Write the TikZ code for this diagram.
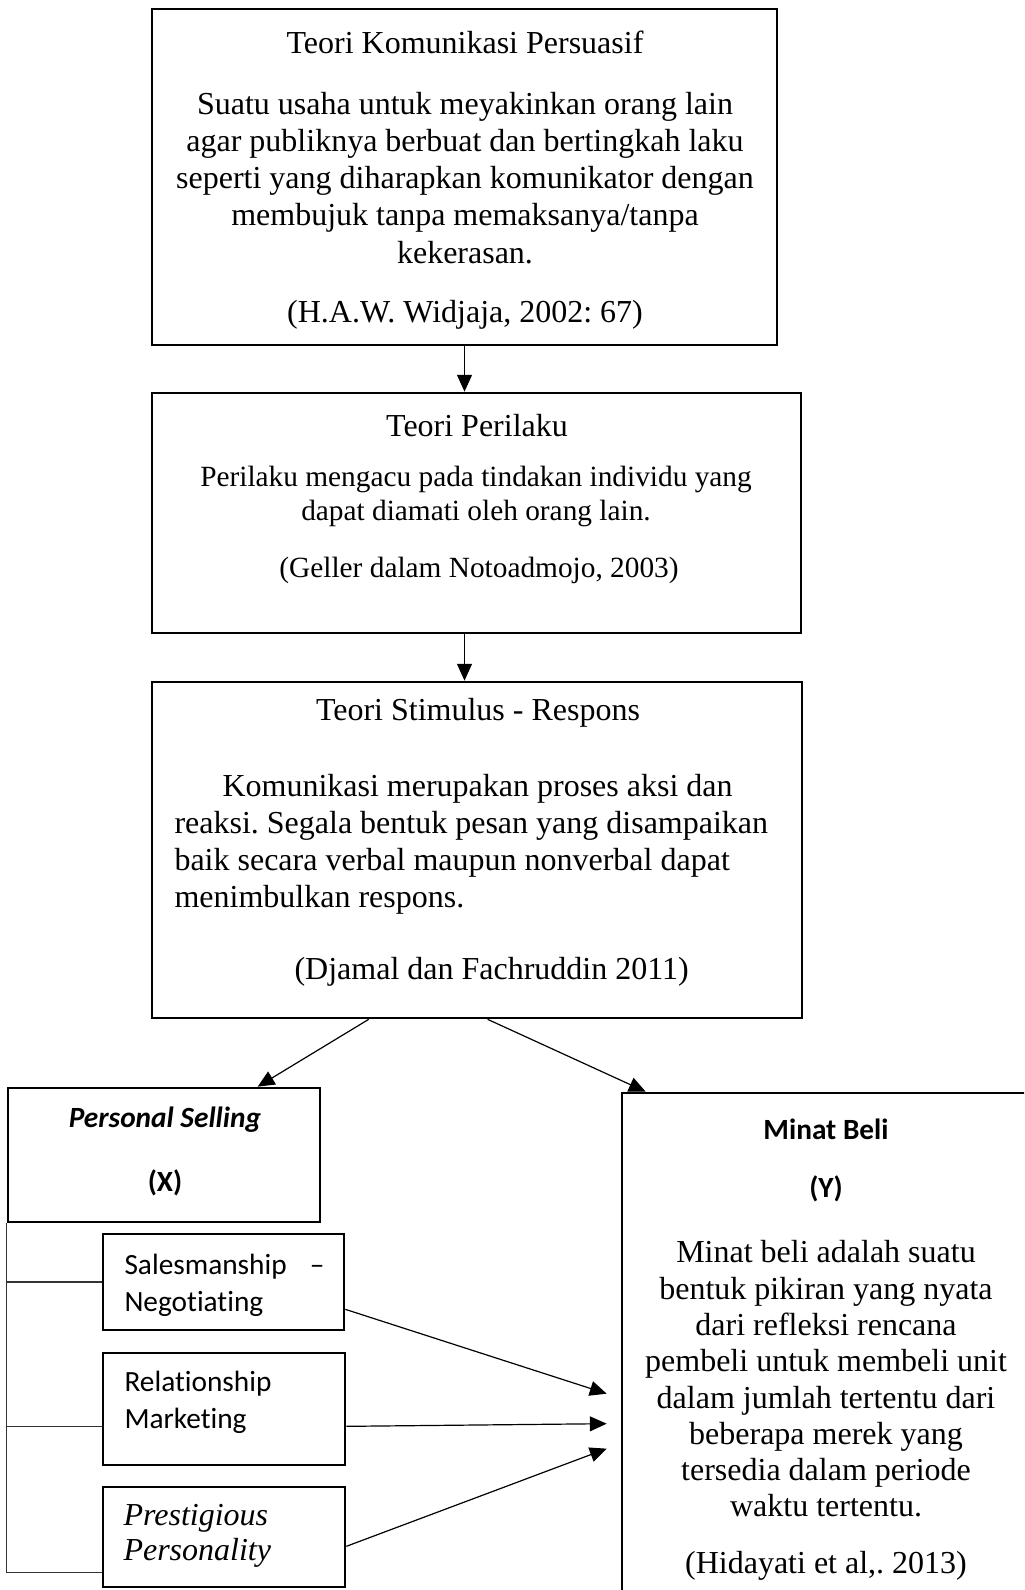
\documentclass[tikz,border=0pt]{standalone}
\usepackage{fontspec}
\setmainfont{Liberation Serif}
\newfontfamily\calibri[Ligatures={NoCommon,NoContextual},Contextuals={NoAlternate}]{Carlito}
\usetikzlibrary{arrows.meta,positioning,fit,calc}
\frenchspacing

\begin{document}
\begin{tikzpicture}[
  x=0.375pt, y=-0.375pt,
  kotak/.style={draw, line width=1pt, inner sep=0pt},
  panah/.style={-{Triangle[length=6.3pt,width=5.6pt]}, line width=0.45pt},
  garis/.style={line width=0.45pt, draw=black!80},
  judul/.style={font=\fontsize{12}{13.9}\selectfont},
  isi/.style={font=\fontsize{12}{13.9}\selectfont, align=center},
  kecil/.style={font=\calibri\fontsize{11}{13.9}\selectfont, align=left}
  ]
  \tikzstyle{every node}=[inner sep=0pt]
  \useasboundingbox (0,0) rectangle (1024,1590);
  \clip (0,0) rectangle (1024,1590);

  % kotak
  \node[kotak, fit={(152,9) (777,345)}] (kom) {};
  \node[kotak, fit={(152,393) (801,633)}] (per) {};
  \node[kotak, fit={(152,682) (802,1018)}] (stim) {};
  \node[kotak, fit={(8,1088) (320,1222)}] (ps) {};
  \node[kotak, fit={(622,1093) (1040,1610)}] (minat) {};
  \node[kotak, fit={(103,1234) (344,1330)}] (sales) {};
  \node[kotak, fit={(103,1353) (345,1465)}] (rel) {};
  \node[kotak, fit={(103,1487) (345,1587)}] (pres) {};

  % teks
  \node[judul] (kom-j) at (465,42) {Teori Komunikasi Persuasif};
  \node[isi] (kom-i) at (465,178) {Suatu usaha untuk meyakinkan orang lain\\
    agar publiknya berbuat dan bertingkah laku\\
    seperti yang diharapkan komunikator dengan\\
    membujuk tanpa memaksanya/tanpa\\
    kekerasan.};
  \node[judul] (kom-s) at (465,315) {(H.A.W. Widjaja, 2002: 67)};

  \node[judul] (per-j) at (477,426) {Teori Perilaku};
  \node[isi, font=\fontsize{11}{12.75}\selectfont] (per-i) at (476,496) {Perilaku mengacu pada tindakan individu yang\\
    dapat diamati oleh orang lain.};
  \node[font=\fontsize{11}{12.75}\selectfont] (per-s) at (479,570) {(Geller dalam Notoadmojo, 2003)};

  \node[judul] (stim-j) at (478,713) {Teori Stimulus - Respons};
  \node[isi, align=left, anchor=west] (stim-i) at (174,844) {\hspace*{18pt}Komunikasi merupakan proses aksi dan\\
    reaksi. Segala bentuk pesan yang disampaikan\\
    baik secara verbal maupun nonverbal dapat\\
    menimbulkan respons.};
  \node[judul, anchor=west] (stim-s) at (294,972) {(Djamal dan Fachruddin 2011)};

  \node[kecil, font=\calibri\bfseries\itshape\fontsize{11}{13.9}\selectfont] (ps-j) at (165,1120) {Personal Selling};
  \node[kecil, font=\calibri\bfseries\fontsize{11}{13.9}\selectfont] (ps-x) at (165,1183) {(X)};

  \node[kecil, font=\calibri\bfseries\fontsize{11}{13.9}\selectfont] (minat-j) at (826,1129) {Minat Beli};
  \node[kecil, font=\calibri\bfseries\fontsize{11}{13.9}\selectfont] (minat-y) at (826,1189) {(Y)};
  \node[isi, font=\fontsize{12}{13.6}\selectfont] (minat-i) at (826,1379) {Minat beli adalah suatu\\
    bentuk pikiran yang nyata\\
    dari refleksi rencana\\
    pembeli untuk membeli unit\\
    dalam jumlah tertentu dari\\
    beberapa merek yang\\
    tersedia dalam periode\\
    waktu tertentu.};
  \node[judul] (minat-s) at (826,1566) {(Hidayati et al,. 2013)};

  \node[kecil, anchor=west, text width=75pt] (sales-t) at (124,1285) {Salesmanship \hfill –\\Negotiating};
  \node[kecil, anchor=west] (rel-t) at (124,1402) {Relationship\\Marketing};
  \node[isi, align=left, anchor=west, font=\fontsize{12}{13.2}\selectfont\itshape] (pres-t) at (123,1536) {Prestigious\\Personality};

  % panah
  \draw[panah] (kom.south) -- (kom.south |- per.north);
  \draw[panah] (kom.south |- per.south) -- (kom.south |- stim.north);
  \draw[panah] ($(stim.south west)+(218,0)$) -- ($(ps.north west)+(251,0)$);
  \draw[panah] ($(stim.south west)+(337,0)$) -- ($(minat.north west)+(25,0)$);

  \draw[garis] (ps.south west) |- (sales.west);
  \draw[garis] (ps.south west) |- ($(rel.south west)+(0,-40)$);
  \draw[garis] (ps.south west) |- ($(pres.south west)+(0,-16)$);

  \coordinate (ujung1) at ($(minat.north west)+(-14,302)$);
  \coordinate (ujung2) at ($(minat.north west)+(-14,332)$);
  \coordinate (ujung3) at ($(minat.north west)+(-14,357)$);
  \draw[panah] ($(sales.south east)+(0,-22)$) -- (ujung1);
  \draw[panah] ($(rel.south east)+(0,-40)$) -- (ujung2);
  \draw[panah] ($(pres.south east)+(0,-42)$) -- (ujung3);

\end{tikzpicture}
\end{document}
